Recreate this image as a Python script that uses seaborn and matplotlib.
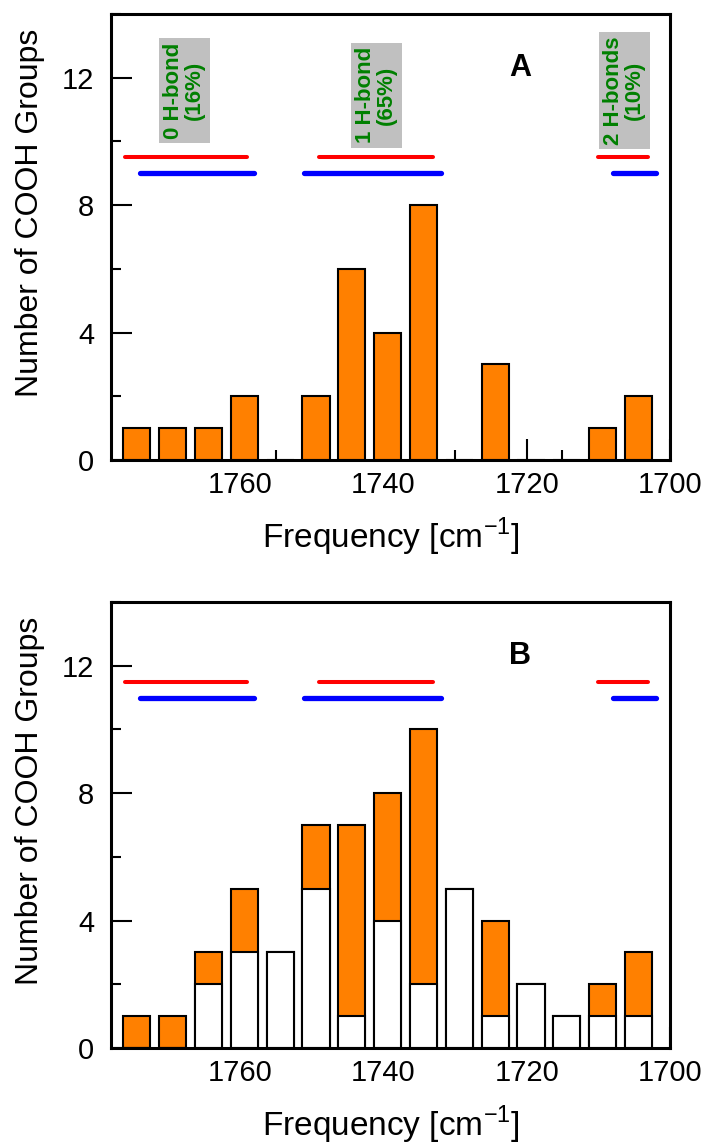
import pandas as pd
import matplotlib
matplotlib.use('Agg')
import matplotlib.pyplot as plt
import seaborn as sns
from matplotlib.ticker import MultipleLocator, FixedLocator

# 数据
freqs = [1775, 1770, 1765, 1760, 1755, 1750, 1745, 1740, 1735, 1730, 1725, 1720, 1715, 1710, 1705]
orange_a = [1, 1, 1, 2, 0, 2, 6, 4, 8, 0, 3, 0, 0, 1, 2]
orange_b = [1, 1, 1, 2, 0, 2, 6, 4, 8, 0, 3, 0, 0, 1, 2]
white_b = [0, 0, 2, 3, 3, 5, 1, 4, 2, 5, 1, 2, 1, 1, 1]

red_ranges = [(1776, 1759), (1749, 1733), (1710, 1703)]
blue_ranges = [(1774, 1758), (1751, 1732), (1708, 1702)]
red_level = {'A': 9.5, 'B': 11.5}
blue_level = {'A': 9.0, 'B': 11.0}

box_labels = ['0 H-bond\n(16%)', '1 H-bond\n(65%)', '2 H-bonds\n(10%)']
box_x = [1767.8, 1741.0, 1706.4]
box_y = [11.6, 11.45, 11.6]

sns.set_theme(style='ticks')
plt.rcParams['font.family'] = ['Liberation Sans', 'DejaVu Sans']
plt.rcParams['mathtext.fontset'] = 'custom'
plt.rcParams['mathtext.rm'] = 'Liberation Sans'
for k in ['text.color', 'axes.labelcolor', 'xtick.color', 'ytick.color', 'axes.edgecolor']:
    plt.rcParams[k] = 'black'

ORANGE = '#FF8000'
bar_shift = 0.6   # 柱子相对刻度略偏

fig = plt.figure(figsize=(7.06, 11.46), dpi=100)
ax_a = fig.add_axes([0.1572, 0.5986, 0.7918, 0.3892])
ax_b = fig.add_axes([0.1572, 0.0855, 0.7918, 0.3892])

df_a = pd.DataFrame({'freq': [f - bar_shift for f in freqs], 'orange': orange_a})
df_b = pd.DataFrame({'freq': [f - bar_shift for f in freqs],
                     'total': [o + w for o, w in zip(orange_b, white_b)],
                     'white': white_b})

bar_kw = dict(native_scale=True, width=0.76, edgecolor='black', linewidth=1.5,
              saturation=1)
sns.barplot(data=df_a, x='freq', y='orange', color=ORANGE, ax=ax_a, **bar_kw)
sns.barplot(data=df_b, x='freq', y='total', color=ORANGE, ax=ax_b, **bar_kw)
sns.barplot(data=df_b, x='freq', y='white', color='white', ax=ax_b, **bar_kw)

for ax, tag in [(ax_a, 'A'), (ax_b, 'B')]:
    for x0, x1 in red_ranges:
        ax.plot([x0, x1], [red_level[tag]] * 2, color='#FF0000', lw=2.9,
                solid_capstyle='round')
    for x0, x1 in blue_ranges:
        ax.plot([x0, x1], [blue_level[tag]] * 2, color='#0000FF', lw=3.8,
                solid_capstyle='round')
    ax.text(1720.9, 12.3, tag, fontsize=22, fontweight='bold', ha='center', va='center')

    ax.set_xlim(1778, 1700)
    ax.set_ylim(0, 14)
    ax.xaxis.set_major_locator(FixedLocator([1760, 1740, 1720, 1700]))
    ax.xaxis.set_minor_locator(MultipleLocator(5))
    ax.yaxis.set_major_locator(MultipleLocator(4))
    ax.yaxis.set_minor_locator(MultipleLocator(2))
    ax.tick_params(which='both', direction='in', top=False, right=False, width=1.5,
                   labelsize=21)
    ax.tick_params(which='major', length=15)
    ax.tick_params(axis='x', which='major', pad=8)
    ax.tick_params(axis='y', which='major', pad=12)
    ax.tick_params(which='minor', length=7.5)
    for sp in ax.spines.values():
        sp.set_linewidth(2.2)
    ax.set_xlabel('Frequency [cm$^{-1}$]', fontsize=24, labelpad=12)
    ax.set_ylabel('Number of COOH Groups', fontsize=23)
    ax.yaxis.set_label_coords(-0.118, 0.554)

for label, x, y in zip(box_labels, box_x, box_y):
    ax_a.text(x, y, label, rotation=90, ha='center', va='center', fontsize=16,
              fontweight='bold', color='#008000', linespacing=1.0,
              bbox=dict(boxstyle='square,pad=0.2', facecolor='#C0C0C0', edgecolor='none'))

fig.savefig('out.png', dpi=100)
